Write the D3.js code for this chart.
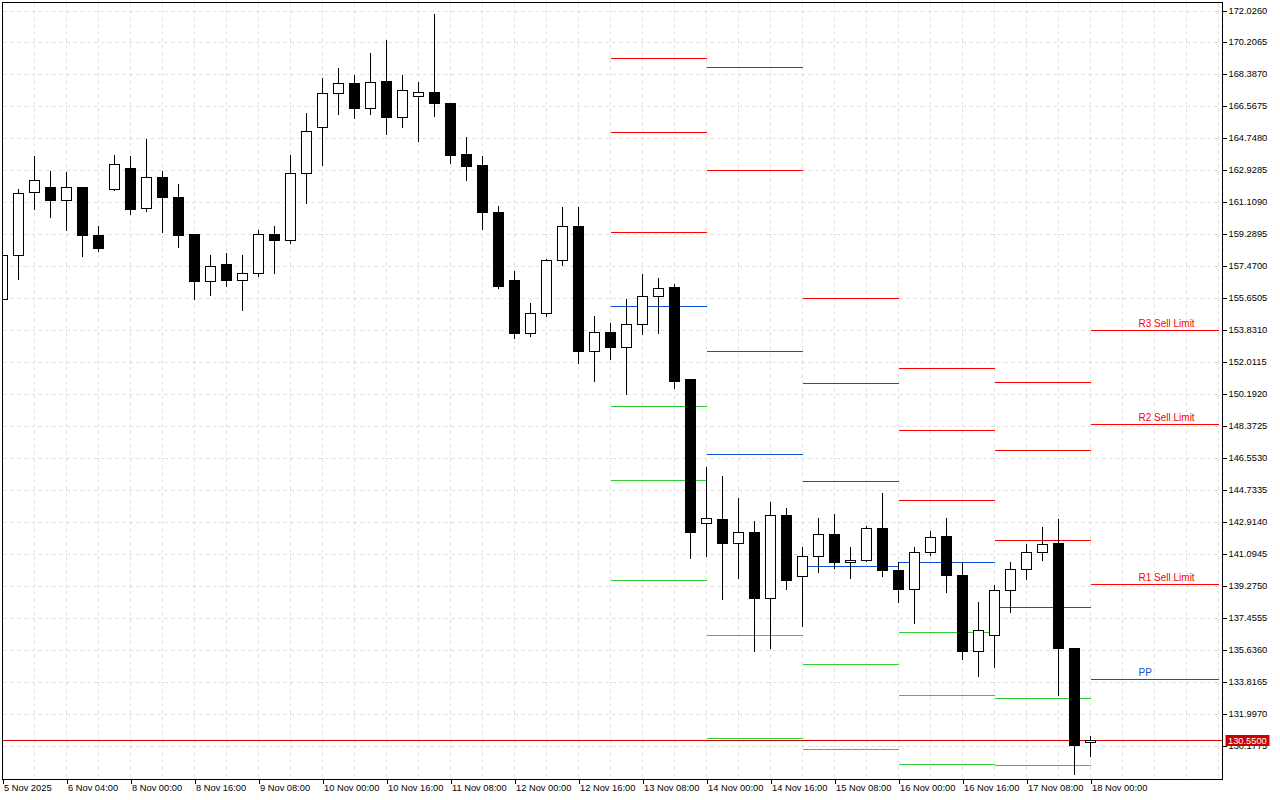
<!DOCTYPE html>
<html>
<head>
<meta charset="utf-8">
<script src="https://cdn.jsdelivr.net/npm/d3@7"></script>
<style>
body { margin: 0; background: #fff; }
svg { display: block; }
</style>
</head>
<body>
<script>
// candles, 4h bars, oldest first
var candleOpen = [155.59,158.13,161.71,162.00,161.24,162.00,159.23,161.88,163.08,160.78,
  162.57,161.43,159.32,156.63,157.62,156.69,157.11,159.32,158.98,162.79,
  165.41,167.34,167.91,166.49,167.99,165.98,167.17,167.40,166.78,163.89,
  163.21,160.58,156.67,153.67,154.83,157.85,159.74,152.65,153.75,152.90,
  154.20,155.80,156.27,151.04,142.88,143.11,141.75,142.37,138.60,143.34,
  139.87,141.01,142.26,140.67,140.78,142.60,140.21,139.13,141.24,142.11,
  139.94,135.58,136.51,139.07,140.27,141.24,141.71,135.74,130.43];
var candleHigh = [158.20,161.94,163.83,162.98,162.87,162.00,159.85,163.89,163.83,164.80,
  162.98,162.24,159.32,158.15,158.30,158.20,159.57,159.80,163.89,166.28,
  168.27,168.84,168.44,169.69,170.38,168.39,167.99,171.86,166.78,164.86,
  163.83,160.99,157.29,155.47,157.96,160.93,160.93,154.73,154.28,155.70,
  157.12,156.84,156.55,151.15,146.09,145.58,144.38,143.07,144.15,143.81,
  141.59,143.24,143.47,141.59,142.75,144.61,140.74,141.54,142.50,143.24,
  140.74,138.41,139.43,140.74,141.76,142.73,143.13,135.79,130.84];
var candleLow = [155.53,156.80,160.78,160.33,159.57,158.11,158.43,161.88,160.50,160.67,
  159.47,158.62,155.66,155.89,156.44,155.03,156.99,157.14,158.87,161.12,
  163.28,166.18,165.96,166.18,165.05,165.44,164.65,166.07,163.40,162.43,
  159.64,156.29,153.44,153.54,154.69,157.59,152.02,151.00,152.25,150.24,
  153.67,153.73,150.60,140.93,141.08,138.60,139.79,135.64,135.81,139.17,
  137.06,140.13,140.36,139.79,140.78,139.94,138.41,137.23,141.10,138.99,
  135.18,134.22,134.73,137.86,139.73,140.81,133.14,128.64,129.67];
var candleClose = [158.13,161.66,162.40,161.24,162.00,159.24,158.51,163.31,160.71,162.57,
  161.41,159.28,156.63,157.50,156.69,157.11,159.32,158.96,162.79,165.18,
  167.34,167.91,166.47,167.97,165.96,167.52,167.40,166.75,163.80,163.17,
  160.55,156.34,153.67,154.83,157.86,159.74,152.65,153.75,152.87,154.20,
  155.80,156.25,150.94,142.35,143.17,141.73,142.37,138.60,143.34,139.62,
  141.01,142.26,140.64,140.78,142.60,140.19,139.11,141.24,142.09,139.90,
  135.58,136.80,139.07,140.27,141.24,141.69,135.75,130.23,130.55];

// bottom axis labels, one every 4 bars
var timeLabels = ["5 Nov 2025","6 Nov 04:00","8 Nov 00:00","8 Nov 16:00","9 Nov 08:00",
  "10 Nov 00:00","10 Nov 16:00","11 Nov 08:00","12 Nov 00:00","12 Nov 16:00",
  "13 Nov 08:00","14 Nov 00:00","14 Nov 16:00","15 Nov 08:00","16 Nov 00:00",
  "16 Nov 16:00","17 Nov 08:00","18 Nov 00:00"];

var priceTicks = [172.0260,170.2065,168.3870,166.5675,164.7480,162.9285,161.1090,159.2895,
  157.4700,155.6505,153.8310,152.0115,150.1920,148.3725,146.5530,144.7335,142.9140,
  141.0945,139.2750,137.4555,135.6360,133.8165,131.9970,130.1775];

// daily pivot levels (start/end bar of each day)
var pivotStart = [38,44,50,56,62,68];
var pivotEnd   = [44,50,56,62,68,76];
var pivotR3 = [169.34,168.82,155.68,151.70,150.92,153.88];
var pivotR2 = [165.13,162.97,150.85,148.18,147.05,148.52];
var pivotR1 = [159.44,152.67,145.27,144.19,141.92,139.38];
var pivotPP = [155.23,146.81,140.44,140.67,138.11,134.01];
var pivotS1 = [149.54,136.51,134.86,136.69,132.93,null];
var pivotS2 = [145.33,130.66,130.03,133.10,129.12,null];
var pivotS3 = [139.64,null,null,129.18,null,null];

var currentPrice = 130.55;

var levelNames = ["R3","R2","R1","PP","S1","S2","S3"];
var levelColors = {R3:"#ff0000",R2:"#ff0000",R1:"#ff0000",PP:"#0a50d8",S1:"#32cd32",S2:"#32cd32",S3:"#32cd32"};
var levelData = {R3:pivotR3,R2:pivotR2,R1:pivotR1,PP:pivotPP,S1:pivotS1,S2:pivotS2,S3:pivotS3};

var plot = {left: 2.5, right: 1222.5, top: 2.5, bottom: 779.5};
var fontFam = "'Liberation Sans', Arial, sans-serif";

var x = d3.scaleLinear().domain([0, 76]).range([2.5, 1218.5]);
var y = d3.scaleLinear().domain([128.34, 172.538]).range([779, 2]);
function crisp(v) { return Math.floor(v) + 0.5; }

var svg = d3.select("body").append("svg")
    .attr("width", 1280)
    .attr("height", 800)
    .style("font-family", fontFam);

svg.append("defs").append("clipPath").attr("id", "clip")
  .append("rect")
    .attr("x", plot.left + 0.5).attr("y", plot.top + 0.5)
    .attr("width", plot.right - plot.left - 1).attr("height", plot.bottom - plot.top - 1);

// grid
var grid = svg.append("g").attr("clip-path", "url(#clip)")
    .attr("stroke", "#e2e2e2").attr("stroke-dasharray", "4,3").attr("shape-rendering", "crispEdges");
grid.selectAll(".hg").data(priceTicks).enter().append("line")
    .attr("x1", plot.left).attr("x2", plot.right)
    .attr("y1", function(d){ return crisp(y(d)); })
    .attr("y2", function(d){ return crisp(y(d)); });
grid.selectAll(".vg").data(d3.range(2, 77, 2)).enter().append("line")
    .attr("y1", plot.top).attr("y2", plot.bottom)
    .attr("x1", function(d){ return x(d); })
    .attr("x2", function(d){ return x(d); });

var chart = svg.append("g").attr("clip-path", "url(#clip)").attr("shape-rendering", "crispEdges");

// pivot segments
levelNames.forEach(function(name) {
  var vals = levelData[name];
  chart.selectAll(".pv-" + name)
    .data(pivotStart.map(function(s, i){ return {s: s, e: pivotEnd[i], v: vals[i]}; })
      .filter(function(d){ return d.v != null; }))
    .enter().append("line")
      .attr("x1", function(d){ return x(d.s); })
      .attr("x2", function(d){ return x(d.e); })
      .attr("y1", function(d){ return crisp(y(d.v)); })
      .attr("y2", function(d){ return crisp(y(d.v)); })
      .attr("stroke", levelColors[name]).attr("stroke-width", 1);
});

// labels on today's levels
var lastDay = pivotStart.length - 1;
var labelText = {R3: "R3 Sell Limit", R2: "R2 Sell Limit", R1: "R1 Sell Limit", PP: "PP"};
["R3","R2","R1","PP"].forEach(function(name) {
  svg.append("text")
    .attr("x", x(71))
    .attr("y", crisp(y(levelData[name][lastDay])) - 4)
    .attr("fill", levelColors[name])
    .style("font-size", "10px")
    .text(labelText[name]);
});

// current price line
chart.append("line")
    .attr("x1", plot.left).attr("x2", plot.right)
    .attr("y1", crisp(y(currentPrice))).attr("y2", crisp(y(currentPrice)))
    .attr("stroke", "#d40000");

// candles
var candles = d3.range(candleOpen.length).map(function(i) {
  return {i: i, o: candleOpen[i], h: candleHigh[i], l: candleLow[i], c: candleClose[i]};
});
var cg = chart.selectAll(".candle").data(candles).enter().append("g");
cg.append("line")
    .attr("x1", function(d){ return x(d.i); })
    .attr("x2", function(d){ return x(d.i); })
    .attr("y1", function(d){ return crisp(y(d.h)); })
    .attr("y2", function(d){ return crisp(y(d.l)) + 1; })
    .attr("stroke", "#000");
cg.append("rect")
    .attr("x", function(d){ return x(d.i) - 5; })
    .attr("width", 10)
    .attr("y", function(d){ return crisp(y(Math.max(d.o, d.c))); })
    .attr("height", function(d){
      return Math.max(1, crisp(y(Math.min(d.o, d.c))) - crisp(y(Math.max(d.o, d.c))));
    })
    .attr("fill", function(d){ return d.c >= d.o ? "#fff" : "#000"; })
    .attr("stroke", "#000");

// frame
svg.append("rect")
    .attr("x", plot.left).attr("y", plot.top)
    .attr("width", plot.right - plot.left).attr("height", plot.bottom - plot.top)
    .attr("fill", "none").attr("stroke", "#000").attr("shape-rendering", "crispEdges");

// right price axis
var yAxis = svg.append("g")
    .attr("transform", "translate(" + plot.right + ",0)")
    .call(d3.axisRight(y).tickValues(priceTicks).tickFormat(d3.format(".4f"))
      .tickSize(4).tickSizeOuter(0).tickPadding(2));
yAxis.select(".domain").remove();
yAxis.selectAll(".tick line").attr("stroke", "#000").attr("shape-rendering", "crispEdges");
yAxis.selectAll(".tick").attr("transform", function(d){ return "translate(0," + crisp(y(d)) + ")"; });
yAxis.selectAll("text").attr("fill", "#000").style("font-size", "9.3px").style("font-family", fontFam);

// bottom time axis
var labelIdx = timeLabels.map(function(d, i){ return i * 4; });
var xAxis = svg.append("g")
    .attr("transform", "translate(0," + plot.bottom + ")")
    .call(d3.axisBottom(x).tickValues(labelIdx)
      .tickFormat(function(d, i){ return timeLabels[i]; })
      .tickSize(4).tickSizeOuter(0).tickPadding(1));
xAxis.select(".domain").remove();
xAxis.selectAll(".tick line").attr("stroke", "#000").attr("shape-rendering", "crispEdges");
xAxis.selectAll("text")
    .attr("text-anchor", "start").attr("dx", "1")
    .attr("fill", "#000").style("font-size", "9.3px").style("font-family", fontFam);

// current price tag
var cy = crisp(y(currentPrice));
svg.append("rect")
    .attr("x", plot.right + 3).attr("y", cy - 5.5)
    .attr("width", 44).attr("height", 11)
    .attr("fill", "#c80000");
svg.append("text")
    .attr("x", plot.right + 5.5).attr("y", cy)
    .attr("dy", "0.33em")
    .attr("fill", "#fff").style("font-size", "9.3px")
    .text(d3.format(".4f")(currentPrice));
</script>
</body>
</html>
